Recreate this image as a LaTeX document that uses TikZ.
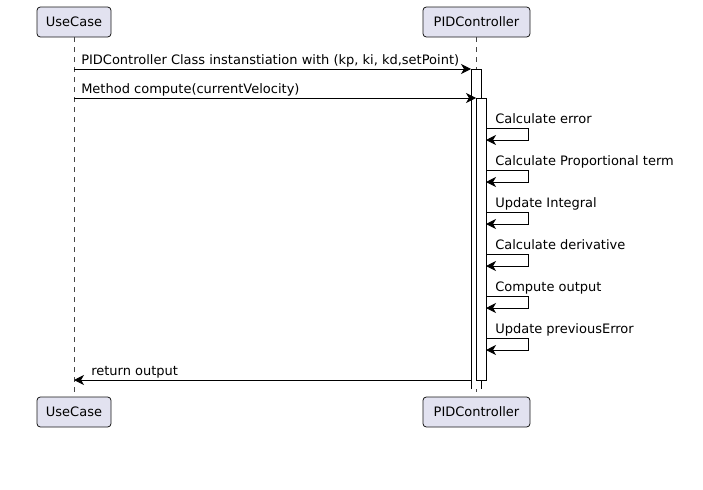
\documentclass[tikz,border=0pt]{standalone}
\usepackage{fontspec}
\setmainfont{DejaVu Sans}
\usetikzlibrary{arrows.meta}
\definecolor{partfill}{HTML}{E2E2F0}
\definecolor{partline}{HTML}{181818}
\begin{document}
\begin{tikzpicture}[x=0.75pt,y=-0.75pt,
  part/.style={draw=partline,fill=partfill,line width=0.6pt,rounded corners=2.5pt,font=\fontsize{9.75}{11}\selectfont},
  life/.style={draw=partline!80,line width=0.5pt,dash pattern=on 3.75pt off 3.75pt},
  actbar/.style={draw=black,fill=white,line width=0.75pt},
  msg/.style={draw=black,line width=0.75pt,-{Stealth[length=7.5pt,width=7.5pt,inset=2.2pt]}},
  lbl/.style={anchor=base west,inner sep=0pt,font=\fontsize{9.75}{11}\selectfont}]
\useasboundingbox[fill=white] (0,0) rectangle (703,489);
% lifelines
\coordinate (uTop) at (74,37);
\coordinate (uBot) at (74,397);
\coordinate (pTop) at (476,37);
\coordinate (pBot) at (476,397);
\draw[life] (uTop) -- (uBot);
\draw[life] (pTop) -- (pBot);
% participants
\path[part] (37,7) rectangle (111,37);
\node[font=\fontsize{9.75}{11}\selectfont] (uc1) at (74,22) {UseCase};
\path[part] (423,7) rectangle (530,37);
\node[font=\fontsize{9.75}{11}\selectfont] (pc1) at (476.5,22) {PIDController};
\path[part] (37,397) rectangle (111,427);
\node[font=\fontsize{9.75}{11}\selectfont] (uc2) at (74,412) {UseCase};
\path[part] (423,397) rectangle (530,427);
\node[font=\fontsize{9.75}{11}\selectfont] (pc2) at (476.5,412) {PIDController};
% activation bars (outer one open at the bottom)
\fill[white] (471,69) rectangle (481,389);
\draw[black,line width=0.75pt] (471,389) -- (471,69) -- (481,69) -- (481,389);
\path[actbar] (476,98) rectangle (486,380);
% messages
\coordinate (m1s) at (74,69);
\coordinate (m1e) at (471,69);
\draw[msg] (m1s) -- (m1e);
\node[lbl] (l1) at (81,64) {PIDController Class instanstiation with (kp, ki, kd,setPoint)};
\coordinate (m2s) at (74,98);
\coordinate (m2e) at (476,98);
\draw[msg] (m2s) -- (m2e);
\node[lbl] (l2) at (81,93) {Method compute(currentVelocity)};
% self messages
\foreach \y/\t in {128/Calculate error,170/Calculate Proportional term,212/Update Integral,254/Calculate derivative,296/Compute output,338/Update previousError}{
  \coordinate (s1) at (486,\y);
  \coordinate (s2) at (528,\y);
  \coordinate (s3) at (528,\y+12);
  \coordinate (s4) at (486,\y+12);
  \draw[msg] (s1) -- (s2) -- (s3) -- (s4);
  \node[lbl] at (495,\y-5) {\t};
}
% return
\coordinate (rs) at (471,380);
\coordinate (re) at (74,380);
\draw[msg] (rs) -- (re);
\node[lbl] (l3) at (91,375) {return output};
\end{tikzpicture}
\end{document}
